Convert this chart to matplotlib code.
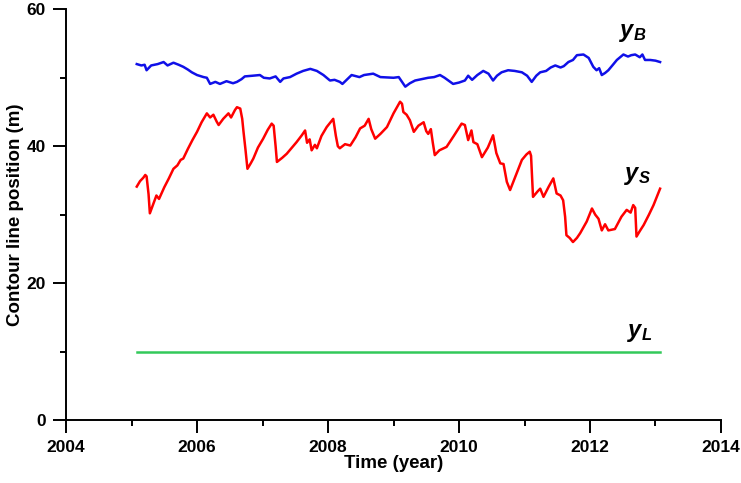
import matplotlib
matplotlib.use("Agg")
import matplotlib.pyplot as plt
from matplotlib.ticker import MultipleLocator

plt.rcParams['font.family'] = ['Liberation Sans', 'DejaVu Sans']
plt.rcParams['mathtext.fontset'] = 'custom'
plt.rcParams['mathtext.it'] = 'Liberation Sans:italic:bold'
plt.rcParams['mathtext.rm'] = 'Liberation Sans:bold'

# y_S (shoreline) series
ys_t = [2005.08, 2005.13, 2005.18, 2005.21, 2005.23, 2005.26, 2005.28, 2005.33, 2005.38, 2005.42,
        2005.50, 2005.57, 2005.64, 2005.70, 2005.75, 2005.79, 2005.86, 2005.93, 2006.00, 2006.07,
        2006.15, 2006.20, 2006.25, 2006.30, 2006.33, 2006.40, 2006.48, 2006.52, 2006.58, 2006.61,
        2006.66, 2006.69, 2006.71, 2006.74, 2006.77, 2006.82, 2006.86, 2006.93, 2007.01, 2007.08,
        2007.14, 2007.17, 2007.20, 2007.22, 2007.30, 2007.37, 2007.45, 2007.52, 2007.60, 2007.65,
        2007.68, 2007.72, 2007.75, 2007.80, 2007.83, 2007.90, 2007.98, 2008.08, 2008.12, 2008.15,
        2008.18, 2008.26, 2008.34, 2008.42, 2008.49, 2008.56, 2008.62, 2008.66, 2008.72, 2008.80,
        2008.90, 2009.00, 2009.10, 2009.13, 2009.15, 2009.20, 2009.25, 2009.31, 2009.38, 2009.46,
        2009.50, 2009.53, 2009.57, 2009.60, 2009.63, 2009.70, 2009.81, 2009.92, 2010.04, 2010.09,
        2010.14, 2010.19, 2010.22, 2010.28, 2010.35, 2010.44, 2010.52, 2010.57, 2010.63, 2010.68,
        2010.73, 2010.78, 2010.87, 2010.96, 2011.03, 2011.08, 2011.10, 2011.13, 2011.20, 2011.24,
        2011.29, 2011.37, 2011.44, 2011.49, 2011.55, 2011.59, 2011.62, 2011.64, 2011.69, 2011.74,
        2011.80, 2011.85, 2011.95, 2012.03, 2012.08, 2012.13, 2012.18, 2012.23, 2012.28, 2012.38,
        2012.48, 2012.56, 2012.62, 2012.66, 2012.69, 2012.71, 2012.76, 2012.82, 2012.90, 2012.97,
        2013.07]
ys_v = [34.1, 34.9, 35.4, 35.8, 35.6, 33.0, 30.2, 31.5, 32.8, 32.3,
        34.0, 35.3, 36.7, 37.2, 38.0, 38.2, 39.6, 40.9, 42.1, 43.5,
        44.8, 44.2, 44.6, 43.6, 43.1, 44.0, 44.8, 44.2, 45.3, 45.7,
        45.5, 44.0, 42.1, 39.5, 36.7, 37.5, 38.2, 39.8, 41.1, 42.4,
        43.3, 43.0, 40.0, 37.7, 38.3, 38.9, 39.8, 40.6, 41.6, 42.3,
        40.5, 41.0, 39.4, 40.2, 39.7, 41.5, 42.8, 44.0, 41.5, 40.0,
        39.7, 40.3, 40.1, 41.3, 42.6, 43.0, 44.0, 42.5, 41.1, 41.8,
        42.8, 44.8, 46.5, 46.2, 45.0, 44.6, 43.8, 42.1, 43.0, 43.5,
        42.2, 41.8, 42.5, 40.5, 38.7, 39.4, 39.9, 41.5, 43.3, 43.1,
        40.9, 42.3, 40.6, 40.3, 38.4, 39.8, 41.6, 39.0, 37.5, 37.4,
        34.8, 33.6, 35.8, 38.0, 38.8, 39.2, 38.6, 32.6, 33.4, 33.8,
        32.6, 34.1, 35.3, 33.1, 32.8, 32.1, 29.7, 27.0, 26.6, 26.0,
        26.6, 27.3, 29.0, 30.9, 30.0, 29.4, 27.7, 28.6, 27.7, 27.9,
        29.7, 30.7, 30.3, 31.4, 31.0, 26.8, 27.6, 28.5, 30.0, 31.4,
        33.8]

# y_B series
yb_t = [2005.08, 2005.15, 2005.20, 2005.23, 2005.30, 2005.40, 2005.49, 2005.55, 2005.64, 2005.72,
        2005.79, 2005.86, 2005.92, 2006.00, 2006.10, 2006.15, 2006.20, 2006.28, 2006.35, 2006.45,
        2006.55, 2006.61, 2006.68, 2006.73, 2006.85, 2006.96, 2007.02, 2007.11, 2007.20, 2007.27,
        2007.32, 2007.42, 2007.52, 2007.62, 2007.73, 2007.83, 2007.93, 2008.03, 2008.10, 2008.18,
        2008.22, 2008.36, 2008.48, 2008.55, 2008.69, 2008.80, 2009.00, 2009.08, 2009.18, 2009.25,
        2009.33, 2009.43, 2009.53, 2009.62, 2009.71, 2009.78, 2009.91, 2010.00, 2010.09, 2010.14,
        2010.20, 2010.28, 2010.37, 2010.45, 2010.52, 2010.58, 2010.65, 2010.75, 2010.85, 2010.96,
        2011.04, 2011.11, 2011.18, 2011.24, 2011.33, 2011.40, 2011.47, 2011.55, 2011.60, 2011.67,
        2011.74, 2011.80, 2011.90, 2011.98, 2012.05, 2012.10, 2012.14, 2012.18, 2012.23, 2012.28,
        2012.35, 2012.41, 2012.51, 2012.58, 2012.63, 2012.69, 2012.76, 2012.80, 2012.84, 2012.92,
        2013.00, 2013.07]
yb_v = [52.0, 51.8, 51.9, 51.1, 51.8, 52.0, 52.3, 51.8, 52.2, 51.9,
        51.6, 51.2, 50.8, 50.4, 50.1, 50.0, 49.1, 49.4, 49.1, 49.5,
        49.2, 49.4, 49.8, 50.2, 50.3, 50.4, 50.0, 49.9, 50.2, 49.4,
        49.9, 50.1, 50.6, 51.0, 51.3, 51.0, 50.4, 49.6, 49.7, 49.4,
        49.1, 50.4, 50.1, 50.4, 50.6, 50.1, 50.0, 50.1, 48.7, 49.2,
        49.6, 49.8, 50.0, 50.1, 50.4, 50.0, 49.1, 49.3, 49.6, 50.3,
        49.7, 50.4, 51.0, 50.6, 49.6, 50.3, 50.8, 51.1, 51.0, 50.8,
        50.3, 49.4, 50.3, 50.8, 51.0, 51.5, 51.8, 51.5, 51.7, 52.3,
        52.6, 53.3, 53.4, 52.9, 51.6, 51.1, 51.4, 50.4, 50.7, 51.1,
        51.9, 52.6, 53.4, 53.1, 53.3, 53.4, 53.0, 53.4, 52.6, 52.6,
        52.5, 52.3]

# y_L series
yl_t = [2005.08, 2013.07]
yl_v = [10.0, 10.0]

fig = plt.figure(figsize=(7.41, 4.83), dpi=100)
ax = fig.add_axes([0.0891, 0.1304, 0.8839, 0.8503])

ax.plot(ys_t, ys_v, color='#ff0000', lw=1.8)
ax.plot(yb_t, yb_v, color='#1010e8', lw=1.8)
ax.plot(yl_t, yl_v, color='#33c95a', lw=1.8)

ax.set_xlim(2004, 2014)
ax.set_ylim(0, 60)
ax.xaxis.set_major_locator(MultipleLocator(2))
ax.xaxis.set_minor_locator(MultipleLocator(1))
ax.yaxis.set_major_locator(MultipleLocator(20))
ax.yaxis.set_minor_locator(MultipleLocator(10))

for s in ['top', 'right']:
    ax.spines[s].set_visible(False)
for s in ['left', 'bottom']:
    ax.spines[s].set_linewidth(1.4)

ax.tick_params(which='major', direction='out', length=9.5, width=1.4, labelsize=12.5, pad=5)
ax.tick_params(which='minor', direction='out', length=4.5, width=1.4)
for lab in ax.get_xticklabels() + ax.get_yticklabels():
    lab.set_fontweight('bold')

ax.set_xlabel('Time (year)', fontsize=13.5, fontweight='bold', labelpad=0)
ax.set_ylabel('Contour line position (m)', fontsize=13.5, fontweight='bold', labelpad=2)

ax.text(2012.45, 55.9, r'$y_B$', fontsize=17)
ax.text(2012.52, 35.0, r'$y_S$', fontsize=17)
ax.text(2012.57, 12.2, r'$y_L$', fontsize=17)

fig.savefig('out.png', dpi=100)
